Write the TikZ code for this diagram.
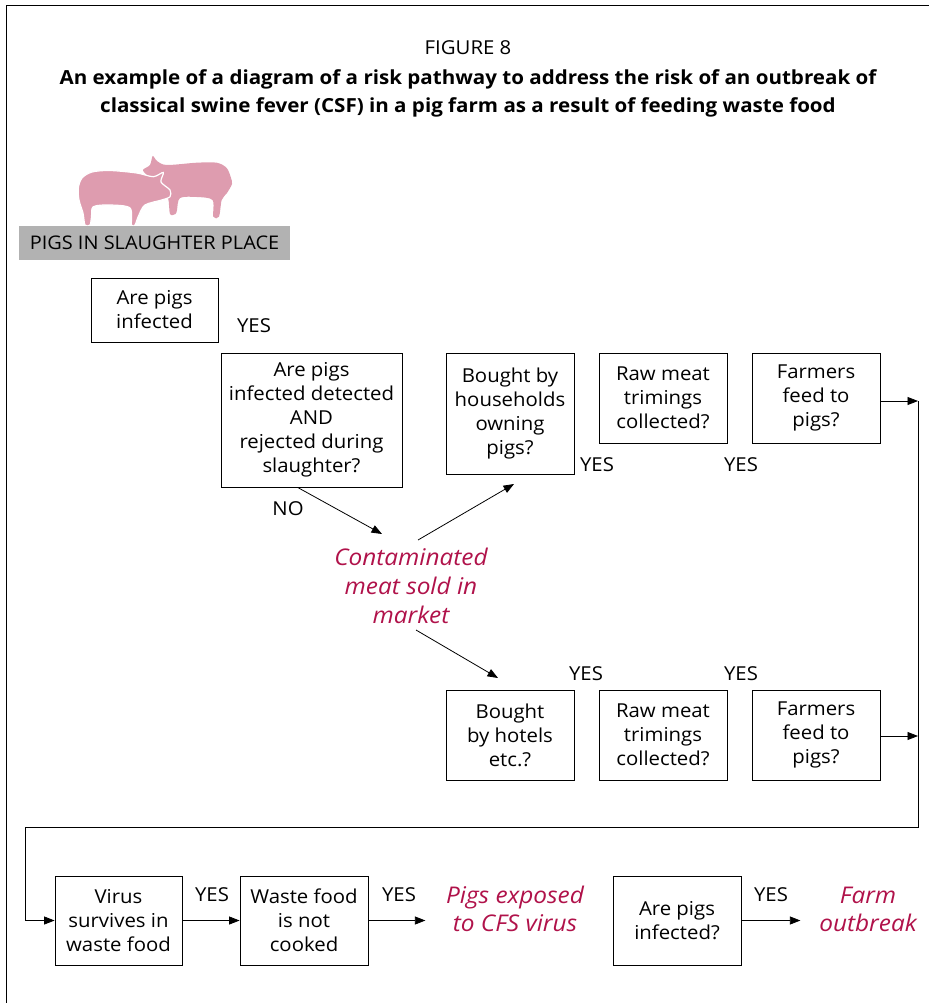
\documentclass[tikz,border=0pt]{standalone}
\usepackage{fontspec}
\setmainfont[FakeStretch=1.06]{Open Sans}
\usetikzlibrary{arrows.meta,calc}
\definecolor{crim}{RGB}{176,18,74}
\definecolor{pinkpig}{RGB}{222,156,175}
\definecolor{bargray}{RGB}{178,178,178}
\begin{document}
\begin{tikzpicture}[x=1pt,y=-1pt,
  every node/.style={font=\fontsize{19.2}{24}\selectfont, inner sep=0pt},
  qbox/.style={draw, line width=0.8pt, align=center},
  lbl/.style={anchor=center},
  red/.style={text=crim, font=\fontsize{23}{29}\selectfont\itshape, align=center},
  arr/.style={line width=0.8pt, -{Triangle[length=10.5pt,width=8pt]}},
  ln/.style={line width=0.8pt}]
\useasboundingbox (0,0) rectangle (929,1003);
% frame
\draw[line width=0.8pt] (6,1003) -- (6,5) -- (929,5);
% title
\node (fig) at (468,48) {FIGURE 8};
\node[font=\fontsize{19.4}{28}\selectfont\bfseries, align=center] (title) at (468,93)
  {An example of a diagram of a risk pathway to address the risk of an outbreak of\\
   classical swine fever (CSF) in a pig farm as a result of feeding waste food};
% pigs
\fill[pinkpig] plot[smooth cycle, tension=0.5] coordinates {
 (152.7,156) (157,161) (166.7,165) (196.7,162.7) (216.7,162.7) (226.7,168) (231,178)
 (232,184) (227,193) (221.7,200) (219,216.7) (213.3,216.7) (212.5,200) (196.7,197)
 (180,198) (177,210) (175.5,214) (170,214) (168,198) (160,188) (148,176) (143,170) (150,165)};
\fill[pinkpig, draw=white, line width=1.2pt] plot[smooth cycle, tension=0.5] coordinates {
 (78.3,188) (82,178) (92,172) (110,170.5) (136.7,173) (153.3,176.7) (163.3,172.5)
 (161,182) (170,190) (170,196.7) (161.7,200) (145,205) (138.5,216) (135,225) (131.5,225)
 (130,208) (110,205) (93.3,206.7) (91.5,217) (90,225) (85,225) (83,213) (79,200)};
% gray bar
\node[fill=bargray, minimum width=271pt, minimum height=34pt, font=\fontsize{18.8}{24}\selectfont] (bar) at (154.5,243) {PIGS IN SLAUGHTER PLACE};
% boxes
\node[qbox, minimum width=127pt, minimum height=64pt] (b1) at (154.5,310) {Are pigs\\infected};
\node[lbl] (y1) at (254,326) {YES};
\node[qbox, minimum width=181pt, minimum height=134pt] (b2) at (311.5,420) {Are pigs\\infected detected\\AND\\rejected during\\slaughter?};
\node[lbl] (no) at (288,509) {NO};
\node[qbox, minimum width=128pt, minimum height=121pt] (b3) at (510,413.5) {Bought by\\households\\owning\\pigs?};
\node[qbox, minimum width=128pt, minimum height=90pt] (b4) at (663,398) {Raw meat\\trimings\\collected?};
\node[qbox, minimum width=128pt, minimum height=90pt] (b5) at (816,398) {Farmers\\feed to\\pigs?};
\node[lbl] (y2) at (597,465) {YES};
\node[lbl] (y3) at (741,465) {YES};
\node[red] (cont) at (411,586) {Contaminated\\meat sold in\\market};
\node[lbl] (y4) at (586,674) {YES};
\node[lbl] (y5) at (741,674) {YES};
\node[qbox, minimum width=128pt, minimum height=90pt] (b6) at (510,735) {Bought\\by hotels\\etc.?};
\node[qbox, minimum width=128pt, minimum height=90pt] (b7) at (663,735) {Raw meat\\trimings\\collected?};
\node[qbox, minimum width=128pt, minimum height=90pt] (b8) at (816,735) {Farmers\\feed to\\pigs?};
% bottom row
\node[qbox, minimum width=127pt, minimum height=89pt] (b9) at (118.5,920.5) {Virus\\survives in\\waste food};
\node[lbl] (y6) at (212,895) {YES};
\node[qbox, minimum width=128pt, minimum height=89pt] (b10) at (304,920.5) {Waste food\\is not\\cooked};
\node[lbl] (y7) at (399,895) {YES};
\node[red, font=\fontsize{23}{28}\selectfont\itshape] (exp) at (515,909) {Pigs exposed\\to CFS virus};
\node[qbox, minimum width=128pt, minimum height=89pt] (b11) at (677,920.5) {Are pigs\\infected?};
\node[lbl] (y8) at (771,895) {YES};
\node[red, font=\fontsize{23}{28}\selectfont\itshape] (out) at (868,909) {Farm\\outbreak};
% connectors
\coordinate (c1) at (382,534);
\coordinate (c2) at (418,540);
\coordinate (c3) at (514,484);
\coordinate (c4) at (416,630);
\coordinate (c5) at (498,678);
\coordinate (r1) at (918,401);
\coordinate (r2) at (918,736);
\coordinate (r3) at (918,827);
\coordinate (l1) at (25,827);
\draw[arr] ($(b2.south west)+(77,0)$) -- (c1);
\draw[arr] (c2) -- (c3);
\draw[arr] (c4) -- (c5);
\draw[arr] (b5.east |- r1) -- (r1);
\draw[arr] (b8.east |- r2) -- (r2);
\draw[ln] (r1) -- (r3) -- (l1) -- (l1 |- b9.west);
\draw[arr] (l1 |- b9.west) -- (b9.west);
\draw[arr] (b9.east) -- (b10.west);
\draw[arr] (b10.east) -- ($(b10.east)+(57,0)$) coordinate (e1);
\draw[arr] (b11.east) -- ($(b11.east)+(59,0)$) coordinate (e2);
\end{tikzpicture}
\end{document}
